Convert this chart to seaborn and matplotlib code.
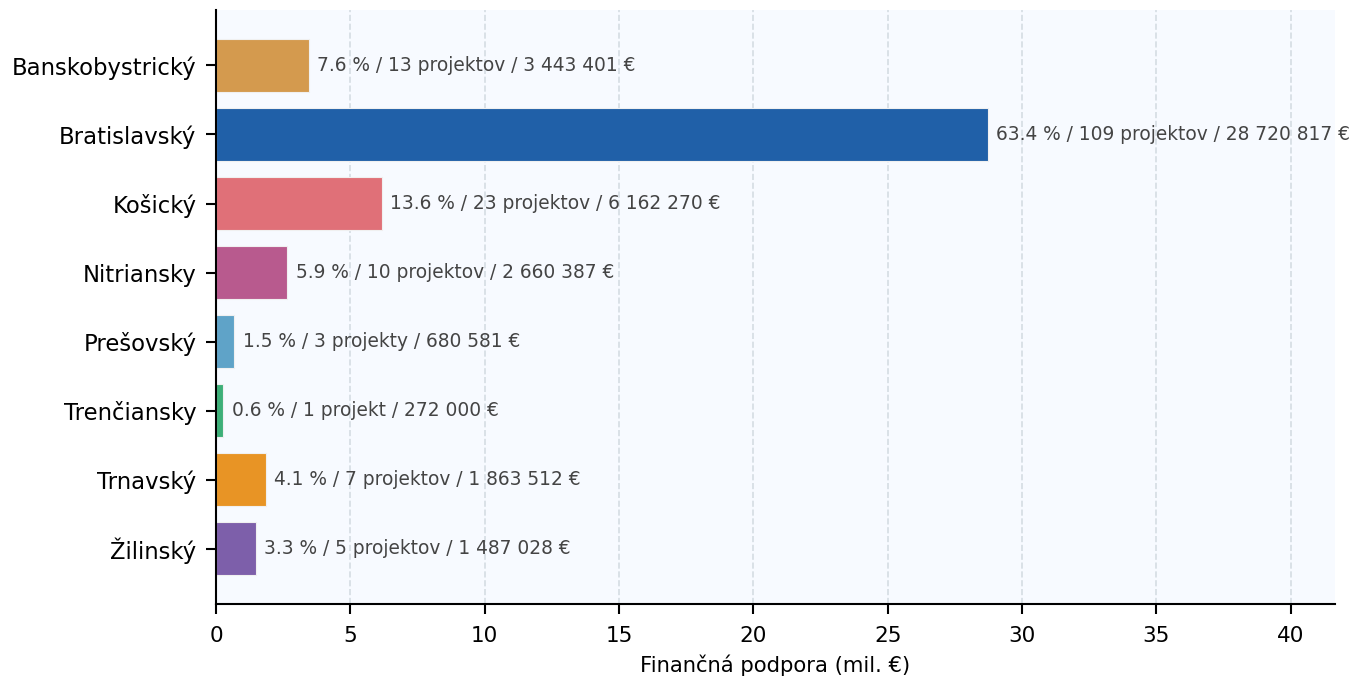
import matplotlib
matplotlib.use("Agg")
import matplotlib.pyplot as plt
import seaborn as sns
import pandas as pd

# data
regions = ['Banskobystrický', 'Bratislavský', 'Košický', 'Nitriansky',
           'Prešovský', 'Trenčiansky', 'Trnavský', 'Žilinský']
amounts_eur = [3443401, 28720817, 6162270, 2660387, 680581, 272000, 1863512, 1487028]
projects = [13, 109, 23, 10, 3, 1, 7, 5]
shares = [7.6, 63.4, 13.6, 5.9, 1.5, 0.6, 4.1, 3.3]
colors = ['#D49A4E', '#2060A8', '#E07078', '#B85A8E',
          '#5FA3C8', '#3DAF78', '#E89425', '#7D5FAA']


def project_word(n):
    if n == 1:
        return 'projekt'
    if 2 <= n <= 4:
        return 'projekty'
    return 'projektov'


def fmt_eur(v):
    return f'{v:,}'.replace(',', ' ') + ' €'


df = pd.DataFrame({'region': regions,
                   'mil': [a / 1e6 for a in amounts_eur]})

sns.set_style('ticks')
plt.rcParams['font.family'] = ['DejaVu Sans']

fig, ax = plt.subplots(figsize=(13.55, 6.79), dpi=100)
fig.subplots_adjust(left=0.1594, right=0.9852, top=0.985, bottom=0.1105)
ax.set_facecolor('#F7FAFF')

sns.barplot(data=df, x='mil', y='region', hue='region', orient='h',
            palette=dict(zip(regions, colors)), width=0.77, saturation=1,
            edgecolor='#F0F0F0', linewidth=0.8, legend=False, ax=ax)

for i, (m, n, s, a) in enumerate(zip(df['mil'], projects, shares, amounts_eur)):
    label = f'{s:.1f} % / {n} {project_word(n)} / {fmt_eur(a)}'
    ax.annotate(label, xy=(m, i), xytext=(6, 0), textcoords='offset points',
                va='center', ha='left', fontsize=13.4, color='#444444')

ax.set_xlim(0, max(df['mil']) * 1.45)
ax.set_ylim(len(regions) - 0.2, -0.8)
ax.set_xticks(range(0, 41, 5))
ax.grid(axis='x', linestyle='--', color='#D5DCE3', linewidth=1.2)
ax.set_axisbelow(True)

ax.set_xlabel('Finančná podpora (mil. €)', fontsize=15.2, color='black', labelpad=6)
ax.set_ylabel('')
ax.tick_params(axis='both', labelsize=15.5, width=1.5, length=7, pad=9,
               colors='black')
ax.tick_params(axis='y', labelsize=16.4, pad=7)
for side in ['top', 'right']:
    ax.spines[side].set_visible(False)
for side in ['left', 'bottom']:
    ax.spines[side].set_linewidth(1.5)
    ax.spines[side].set_color('black')

plt.savefig('out.png', dpi=100)
